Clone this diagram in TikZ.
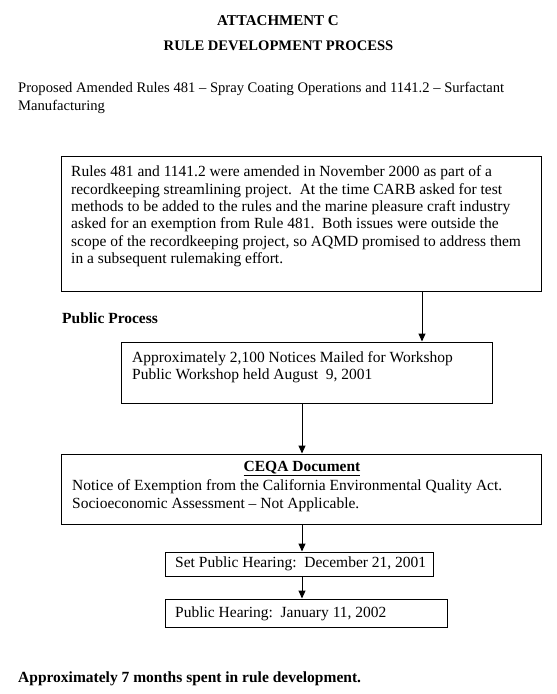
\documentclass[tikz,border=0pt]{standalone}
\usepackage{fontspec}
\setmainfont{Liberation Serif}
\usetikzlibrary{arrows.meta}
\begin{document}
\begin{tikzpicture}[x=1pt,y=-1pt,
  box/.style={draw,line width=1pt,inner sep=0pt,rectangle},
  txt/.style={inner sep=0pt,anchor=west,font=\fontsize{15.5}{17.4}\selectfont},
  para/.style={inner sep=0pt,anchor=north west,align=left,font=\fontsize{15.5}{17.4}\selectfont},
  bold/.style={txt,font=\fontsize{15.5}{17.4}\selectfont\bfseries},
  arr/.style={line width=1pt,-{Triangle[width=7pt,length=8pt]}}]
\useasboundingbox (0,0) rectangle (557,694);
% titles
\node[inner sep=0pt,font=\fontsize{15}{18}\selectfont\bfseries] (t1) at (278,21) {ATTACHMENT C};
\node[inner sep=0pt,font=\fontsize{14.6}{18}\selectfont\bfseries] (t2) at (278.5,46) {RULE DEVELOPMENT PROCESS};
\node[para,font=\fontsize{14.6}{18}\selectfont] (sub) at (18,82) {Proposed Amended Rules 481 -- Spray Coating Operations and 1141.2 -- Surfactant\\Manufacturing};
% boxes
\node[box,minimum width=480pt,minimum height=135pt] (b1) at (301,223.5) {};
\node[box,minimum width=371pt,minimum height=61pt] (b2) at (306.5,372.5) {};
\node[box,minimum width=480pt,minimum height=70pt] (b3) at (301,489) {};
\node[box,minimum width=268pt,minimum height=24pt] (b4) at (299,564) {};
\node[box,minimum width=282pt,minimum height=28pt] (b5) at (306,613) {};
% box texts
\node[para] (p1) at (71,165.5) {Rules 481 and 1141.2 were amended in November 2000 as part of a\\recordkeeping streamlining project.\ \ At the time CARB asked for test\\methods to be added to the rules and the marine pleasure craft industry\\asked for an exemption from Rule 481.\ \ Both issues were outside the\\scope of the recordkeeping project, so AQMD promised to address them\\in a subsequent rulemaking effort.};
\node[bold] (pp) at (62,318) {Public Process};
\node[para] (p2) at (132,351) {Approximately 2,100 Notices Mailed for Workshop\\Public Workshop held August\ \ 9, 2001};
\node[bold,anchor=center] (ceqa) at (302,468.5) {\underline{CEQA Document}};
\node[para] (p3) at (72,479.5) {Notice of Exemption from the California Environmental Quality Act.\\Socioeconomic Assessment -- Not Applicable.};
\node[txt] (p4) at (175,564) {Set Public Hearing:\ \ December 21, 2001};
\node[txt] (p5) at (175,614) {Public Hearing:\ \ January 11, 2002};
\node[bold] (fin) at (18,679) {Approximately 7 months spent in rule development.};
% connectors
\coordinate (xa) at (422,0);
\coordinate (xb) at (302,0);
\draw[arr] (b1.south -| xa) -- (b2.north -| xa);
\draw[arr] (b2.south -| xb) -- (b3.north -| xb);
\draw[arr] (b3.south -| xb) -- (b4.north -| xb);
\draw[arr] (b4.south -| xb) -- (b5.north -| xb);
\end{tikzpicture}
\end{document}
